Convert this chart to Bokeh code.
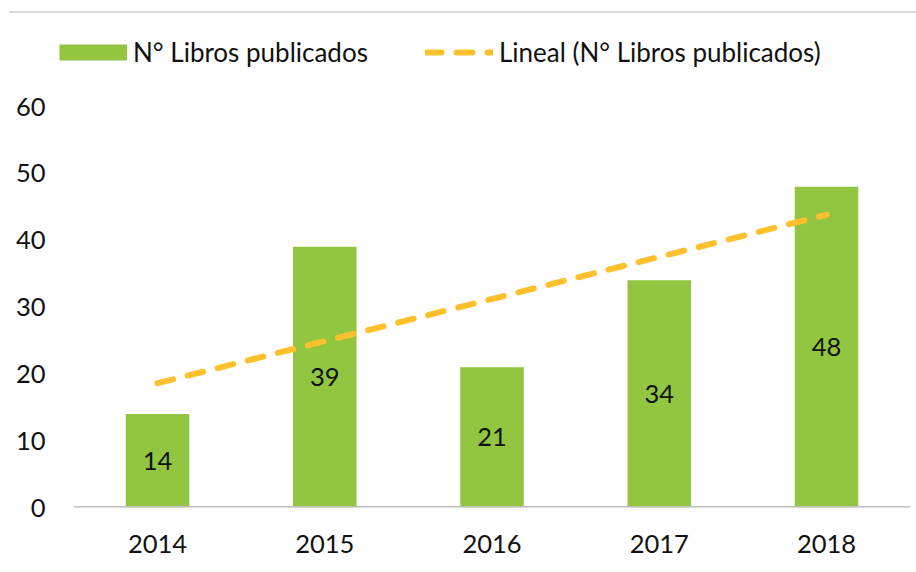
import numpy as np
from bokeh.plotting import figure
from bokeh.models import (ColumnDataSource, Range1d, FixedTicker,
                          Legend, LegendItem, Div)
from bokeh.layouts import column
from bokeh.core.properties import value
from bokeh.embed import file_html
from bokeh.resources import INLINE

years = ["2014", "2015", "2016", "2017", "2018"]
books = [14, 39, 21, 34, 48]
y_ticks = [0, 10, 20, 30, 40, 50, 60]
bar_label = "N° Libros publicados"
trend_label = "Lineal (N° Libros publicados)"

# category positions 1..n
xs = np.arange(1, len(years) + 1)
# linear trendline (least squares) as in the spreadsheet
slope, intercept = np.polyfit(xs, books, 1)
trend = list(slope * xs + intercept)

FONT = "Lato"
FS = "25.5px"
GREEN = "#92C540"
GOLD = "#FFC02E"
src = ColumnDataSource(dict(x=list(xs), y=books, mid=[v / 2 for v in books],
                            txt=[str(v) for v in books], trend=trend))

p = figure(x_range=Range1d(0.36, 5.508), y_range=Range1d(0, 72.87),
           width=916, height=544, output_backend="svg", toolbar_location=None,
           min_border_left=50, min_border_right=5, min_border_top=0,
           min_border_bottom=57)
p.outline_line_color = None
p.grid.grid_line_color = None
p.background_fill_color = "white"
p.border_fill_color = "white"

bars = p.vbar(x="x", top="y", width=0.38, source=src, fill_color=GREEN,
              line_color=None)
# category axis baseline, spanning the category slots
p.line(x=[xs[0] - 0.5, xs[-1] + 0.5], y=[0, 0], line_color="#BFBFBF",
       line_width=3)
tl = p.line(x="x", y="trend", source=src, line_color=GOLD, line_width=6,
            line_dash="16 15", line_cap="round")
p.text(x="x", y="mid", text="txt", source=src, text_align="center",
       text_baseline="middle", text_font=value(FONT), text_font_size=FS,
       text_color="#111111")
# legend swatch proxy for the bars (full-width block); NaN so nothing is drawn
swatch = p.line(x=[xs[0]], y=[float("nan")], line_color=GREEN,
                line_width=16, line_cap="butt")

for ax in (p.xaxis, p.yaxis):
    ax.axis_line_color = None
    ax.major_tick_line_color = None
    ax.minor_tick_line_color = None
    ax.major_tick_out = 0
    ax.major_tick_in = 0
    ax.major_label_text_font = FONT
    ax.major_label_text_font_size = FS
    ax.major_label_text_color = "#111111"

p.yaxis.ticker = FixedTicker(ticks=y_ticks)
p.yaxis.major_label_standoff = 5

p.xaxis.ticker = FixedTicker(ticks=[int(v) for v in xs])
p.xaxis.major_label_overrides = {int(v): y for v, y in zip(xs, years)}
p.xaxis.major_label_standoff = 27

legend = Legend(items=[LegendItem(label=bar_label, renderers=[swatch]),
                       LegendItem(label=trend_label, renderers=[tl])],
                orientation="horizontal", location=(9, 439))
legend.padding = 0
legend.margin = 0
legend.border_line_color = None
legend.background_fill_alpha = 0
legend.glyph_width = 68
legend.glyph_height = 20
legend.label_standoff = 6
legend.spacing = 57
legend.label_text_font = FONT
legend.label_text_font_size = "26px"
legend.label_text_color = "#111111"
p.add_layout(legend, "center")

top_line = Div(text="", width=907, height=13, margin=(0, 0, 7, 9),
               styles={"border-bottom": "2px solid #D9D9D9"})

layout = column(top_line, p, spacing=0)
open("out.html", "w").write(file_html(layout, INLINE))
